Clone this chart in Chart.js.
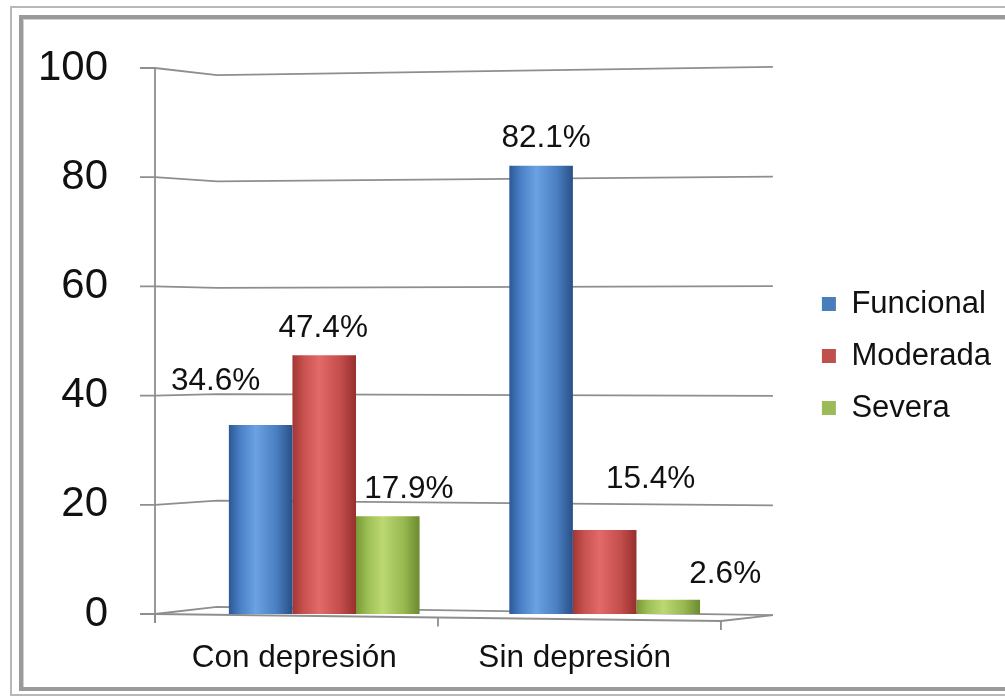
<!DOCTYPE html>
<html>
<head>
<meta charset="utf-8">
<script src="https://cdn.jsdelivr.net/npm/chart.js@4.4.0/dist/chart.umd.min.js"></script>
<style>
  html, body { margin: 0; padding: 0; background: #fff; }
  #wrap { position: relative; width: 1005px; height: 698px; overflow: hidden; }
  .frame-outer { position: absolute; left: 10px; top: 6px; width: 1100px; height: 686px; border: 2px solid #b8b8b8; }
  .frame-inner { position: absolute; left: 19px; top: 15px; width: 1100px; height: 668px; border: 4px solid #9a9a9a; box-shadow: inset 1px 1px 0 #cfcfcf; }
  canvas { position: absolute; left: 0; top: 0; }
</style>
</head>
<body>
<div id="wrap">
  <div class="frame-outer"></div>
  <div class="frame-inner"></div>
  <canvas id="chart" width="1005" height="698"></canvas>
</div>
<script>
// values
const categories = ['Con depresión', 'Sin depresión'];
const funcional = [34.6, 82.1];
const moderada = [47.4, 15.4];
const severa = [17.9, 2.6];
const yTicks = [0, 20, 40, 60, 80, 100];

// label nudges (dx, dy above bar top) per series, the 3D labels sit off-centre
const labelShift = [
  [[-45, 44], [5, 27]],
  [[-1, 27], [46, 51]],
  [[21, 27], [57, 25]],
];

const FONT = "'Liberation Sans', Arial, sans-serif";
const CAT_PCT = 0.68;
const SHADES = [
  ['#2c5896', '#4a80c6', '#6aa2e2', '#4a7ec0', '#285088'],
  ['#a23634', '#c85250', '#e26a68', '#c44e4c', '#96302e'],
  ['#789836', '#9cbf55', '#bcd872', '#98b850', '#6c8a30'],
];
const SOLID = ['#4a7ebb', '#c0504d', '#9bbb59'];

function cylinder(datasetIndex) {
  return (context) => {
    const chart = context.chart;
    const xs = chart.scales.x;
    if (!chart.chartArea || !xs) return SOLID[datasetIndex];
    const catW = (chart.chartArea.right - chart.chartArea.left) / categories.length;
    const barW = catW * CAT_PCT / 3;
    const center = xs.getPixelForValue(context.dataIndex);
    const x0 = center - barW * 1.5 + datasetIndex * barW;
    const g = chart.ctx.createLinearGradient(x0, 0, x0 + barW, 0);
    const s = SHADES[datasetIndex];
    g.addColorStop(0, s[0]); g.addColorStop(0.18, s[1]); g.addColorStop(0.42, s[2]);
    g.addColorStop(0.75, s[3]); g.addColorStop(1, s[4]);
    return g;
  };
}

// gridlines, walls and floor in the 3D look
const frame3d = {
  id: 'frame3d',
  beforeDatasetsDraw(chart) {
    const { ctx, chartArea } = chart;
    const { left, right, top, bottom } = chartArea;
    const ys = chart.scales.y;
    const mid = (top + bottom) / 2;
    const fx = left - 29, bx = left + 33, ex = right + 28;
    const fxr = right - 24;
    ctx.save();
    ctx.strokeStyle = '#8e8e8e';
    ctx.lineWidth = 1.8;
    yTicks.forEach(v => {
      const yf = ys.getPixelForValue(v);
      const yb = mid + (yf - mid) * 0.974;
      const yr = mid + (yf - mid) * 1.004;
      ctx.beginPath();
      ctx.moveTo(fx - 15, yf);
      ctx.lineTo(fx, yf);
      ctx.lineTo(bx, yb);
      ctx.lineTo(ex, yr);
      ctx.stroke();
    });
    const y0r = mid + (bottom - mid) * 1.004;
    // y axis
    ctx.beginPath();
    ctx.moveTo(fx, ys.getPixelForValue(100));
    ctx.lineTo(fx, bottom + 9);
    ctx.stroke();
    // front floor edge + right edge
    ctx.beginPath();
    ctx.moveTo(fx, bottom);
    ctx.lineTo(fxr, bottom + 7);
    ctx.lineTo(ex, y0r);
    ctx.stroke();
    // front ticks
    [0, 0.5, 1].forEach(t => {
      const x = fx + (fxr - fx) * t;
      const y = bottom + 7 * t;
      ctx.beginPath();
      ctx.moveTo(x, y);
      ctx.lineTo(x, y + 9);
      ctx.stroke();
    });
    ctx.restore();
  }
};

const valueLabels = {
  id: 'valueLabels',
  afterDatasetsDraw(chart) {
    const ctx = chart.ctx;
    ctx.save();
    ctx.font = `31.5px ${FONT}`;
    ctx.fillStyle = '#111';
    ctx.textAlign = 'center';
    ctx.textBaseline = 'middle';
    chart.data.datasets.forEach((ds, di) => {
      chart.getDatasetMeta(di).data.forEach((bar, i) => {
        const [dx, dy] = labelShift[di][i];
        ctx.fillText(ds.data[i].toFixed(1) + '%', bar.x + dx, bar.y - dy);
      });
    });
    ctx.restore();
  }
};

new Chart(document.getElementById('chart'), {
  type: 'bar',
  data: {
    labels: categories,
    datasets: [
      { label: 'Funcional', data: funcional, backgroundColor: cylinder(0) },
      { label: 'Moderada', data: moderada, backgroundColor: cylinder(1) },
      { label: 'Severa', data: severa, backgroundColor: cylinder(2) },
    ]
  },
  options: {
    responsive: false,
    animation: false,
    layout: { padding: { left: 0, top: 68, right: 4, bottom: 22 } },
    datasets: { bar: { categoryPercentage: CAT_PCT, barPercentage: 1, borderWidth: 0 } },
    plugins: {
      tooltip: { enabled: false },
      legend: {
        position: 'right',
        fullSize: false,
        maxWidth: 240,
        title: { display: true, text: ' ', font: { size: 10 }, padding: 9 },
        labels: {
          generateLabels: (chart) => chart.data.datasets.map((ds, i) => ({
            text: ds.label, fillStyle: SOLID[i], strokeStyle: SOLID[i], lineWidth: 0, datasetIndex: i, fontColor: '#111'
          })),
          boxWidth: 14, boxHeight: 14, padding: 21, color: '#111',
          font: { family: FONT, size: 31 }
        }
      }
    },
    scales: {
      x: {
        afterFit: (s) => { s.height = 62; s.paddingLeft = 0; s.paddingRight = 0; },
        grid: { display: false, drawTicks: false },
        border: { display: false },
        ticks: { color: '#111', font: { family: FONT, size: 31.5 }, padding: 25, labelOffset: -30, maxRotation: 0 }
      },
      y: {
        min: 0, max: 100,
        afterFit: (s) => { s.width = 184; s.paddingTop = 20; s.paddingBottom = 20; },
        grid: { display: false, drawTicks: false },
        border: { display: false },
        ticks: { stepSize: 20, color: '#111', font: { family: FONT, size: 42 }, padding: 76 }
      },
      y2: {
        position: 'right',
        min: 0, max: 100,
        afterFit: (s) => { s.width = 56; s.paddingTop = 0; s.paddingBottom = 0; },
        grid: { display: false, drawTicks: false },
        border: { display: false },
        ticks: { display: false }
      }
    }
  },
  plugins: [frame3d, valueLabels]
});
</script>
</body>
</html>
